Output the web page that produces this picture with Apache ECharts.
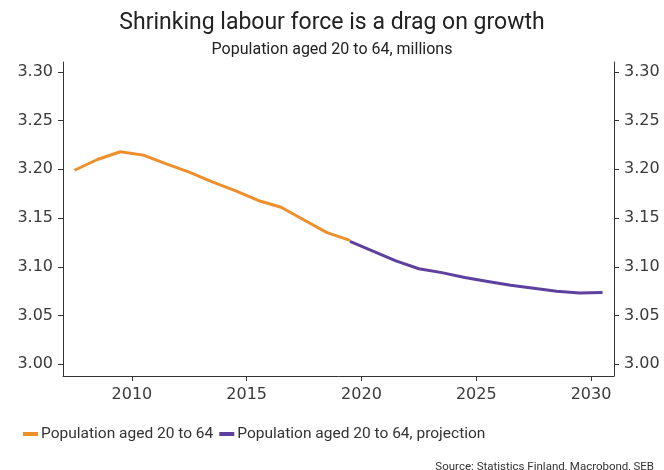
<!DOCTYPE html>
<html>
<head>
<meta charset="utf-8">
<script src="https://cdn.jsdelivr.net/npm/echarts@6/dist/echarts.min.js"></script>
<style>
  html, body { margin: 0; padding: 0; background: #fff; }
  #chart { width: 664px; height: 470px; }
</style>
</head>
<body>
<div id="chart"></div>
<script>
// annual values, plotted at mid-year
const histYears = [2007.5, 2008.5, 2009.5, 2010.5, 2011.5, 2012.5, 2013.5, 2014.5, 2015.5, 2016.5, 2017.5, 2018.5, 2019.5]
const histValues = [3.199, 3.210, 3.218, 3.2145, 3.2055, 3.197, 3.187, 3.178, 3.168, 3.161, 3.148, 3.135, 3.127]
const projYears = [2019.5, 2020.5, 2021.5, 2022.5, 2023.5, 2024.5, 2025.5, 2026.5, 2027.5, 2028.5, 2029.5, 2030.5]
const projValues = [3.126, 3.116, 3.106, 3.098, 3.094, 3.089, 3.085, 3.081, 3.078, 3.075, 3.073, 3.0735]
const xTicks = [2010, 2015, 2020, 2025, 2030]
const yTicks = [3.00, 3.05, 3.10, 3.15, 3.20, 3.25, 3.30]

const font = 'Roboto'
const numFont = 'DejaVu Sans'
const textColor = '#333'

const yAxisBase = (pos) => ({
    type: 'value',
    position: pos,
    min: 2.988,
    max: 3.31,
    splitLine: { show: false },
    axisLine: { show: true, lineStyle: { color: '#333', width: 1 } },
    axisTick: { show: true, length: 5, customValues: yTicks, lineStyle: { color: '#333' } },
    axisLabel: {
        customValues: yTicks,
        formatter: (v) => v.toFixed(2),
        color: '#3a3a3a',
        fontFamily: numFont,
        fontSize: 16,
        margin: 10
    }
})

const chart = echarts.init(document.getElementById('chart'))
chart.setOption({
    animation: false,
    title: [
        {
            text: 'Shrinking labour force is a drag on growth',
            left: 'center',
            top: 7,
            textStyle: { fontFamily: font, fontSize: 23, fontWeight: 'normal', color: '#222' }
        },
        {
            text: 'Population aged 20 to 64, millions',
            left: 'center',
            top: 37,
            textStyle: { fontFamily: font, fontSize: 16, fontWeight: 'normal', color: '#222' }
        },
        {
            text: 'Source: Statistics Finland, Macrobond, SEB',
            right: 5,
            top: 456,
            textStyle: { fontFamily: font, fontSize: 11.5, fontWeight: 'normal', color: '#333' }
        }
    ],
    legend: {
        left: 18,
        top: 421,
        icon: 'rect',
        itemWidth: 15,
        itemHeight: 4,
        itemGap: 6,
        textStyle: { fontFamily: font, fontSize: 15.5, color: textColor, padding: [0, 0, 0, -2] },
        data: ['Population aged 20 to 64', 'Population aged 20 to 64, projection']
    },
    grid: { left: 63, right: 50, top: 62, bottom: 94, containLabel: false },
    xAxis: {
        type: 'value',
        min: 2007,
        max: 2031,
        splitLine: { show: false },
        axisLine: { show: true, onZero: false, lineStyle: { color: '#333' } },
        axisTick: { show: true, length: 5, customValues: xTicks, lineStyle: { color: '#333' } },
        axisLabel: {
            customValues: xTicks,
            formatter: (v) => String(v),
            color: '#3a3a3a',
            fontFamily: numFont,
            fontSize: 16,
            margin: 11
        }
    },
    yAxis: [yAxisBase('left'), yAxisBase('right')],
    series: [
        {
            name: 'Population aged 20 to 64',
            type: 'line',
            yAxisIndex: 0,
            showSymbol: false,
            data: histYears.map((y, i) => [y, histValues[i]]),
            lineStyle: { color: '#EE8F2B', width: 3 },
            itemStyle: { color: '#EE8F2B' }
        },
        {
            name: 'Population aged 20 to 64, projection',
            type: 'line',
            yAxisIndex: 0,
            showSymbol: false,
            data: projYears.map((y, i) => [y, projValues[i]]),
            lineStyle: { color: '#5E409E', width: 3 },
            itemStyle: { color: '#5E409E' }
        }
    ]
})
window.addEventListener('resize', () => chart.resize())
</script>
</body>
</html>
